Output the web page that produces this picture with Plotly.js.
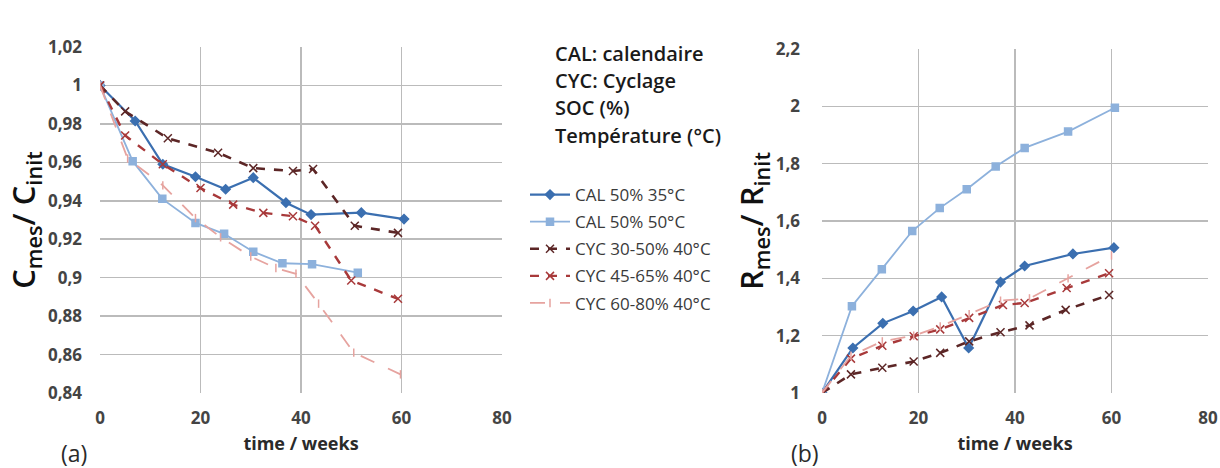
<!DOCTYPE html>
<html><head><meta charset="utf-8">
<script src="https://cdn.plot.ly/plotly-3.0.1.min.js"></script>
<style>html,body{margin:0;padding:0;background:#fff}#chart{width:1220px;height:468px}</style>
</head><body><div id="chart"></div>
<script>
// ---- data: capacity (a) ----
const seriesNames = ["CAL 50% 35°C", "CAL 50% 50°C", "CYC 30-50% 40°C", "CYC 45-65% 40°C", "CYC 60-80% 40°C"];
const capCal35Weeks = [0, 7, 12.5, 19, 25, 30.5, 37, 42, 52, 60.5];
const capCal35 = [1, 0.9815, 0.959, 0.9525, 0.946, 0.952, 0.939, 0.9328, 0.9338, 0.9305];
const capCal50Weeks = [0, 6.5, 12.4, 19, 24.7, 30.5, 36.3, 42.2, 51.3];
const capCal50 = [1, 0.9606, 0.941, 0.9285, 0.9228, 0.9135, 0.9075, 0.907, 0.9026];
const capCyc3050Weeks = [0, 5, 13.5, 23.5, 30.5, 38.4, 42.4, 50.7, 59.3];
const capCyc3050 = [1, 0.9865, 0.9725, 0.965, 0.957, 0.9555, 0.9565, 0.927, 0.9233];
const capCyc4565Weeks = [0, 5, 12.5, 20, 26.5, 32.5, 38.4, 42.8, 50, 59.3];
const capCyc4565 = [1, 0.974, 0.959, 0.9466, 0.938, 0.9337, 0.932, 0.927, 0.8985, 0.889];
const capCyc6080Weeks = [0, 5.5, 12.5, 19, 24, 30, 35, 39, 43.5, 50.5, 59.8];
const capCyc6080 = [1, 0.962, 0.948, 0.931, 0.921, 0.911, 0.905, 0.902, 0.8865, 0.861, 0.8497];
// ---- data: resistance (b) ----
const resCal35Weeks = [0, 6.4, 12.6, 18.9, 24.8, 30.4, 37, 42, 52, 60.5];
const resCal35 = [1, 1.157, 1.243, 1.286, 1.335, 1.157, 1.387, 1.443, 1.485, 1.507];
const resCal50Weeks = [0, 6.2, 12.4, 18.7, 24.4, 30, 36, 42, 51, 60.7];
const resCal50 = [1, 1.303, 1.432, 1.565, 1.645, 1.711, 1.79, 1.855, 1.912, 1.995];
const resCyc3050Weeks = [0, 6, 12.5, 19, 24.5, 30.5, 37, 43, 50.5, 59.5];
const resCyc3050 = [1, 1.065, 1.088, 1.11, 1.14, 1.18, 1.212, 1.236, 1.29, 1.342];
const resCyc4565Weeks = [0, 6, 12.5, 19, 24.5, 30.5, 37.5, 42, 50.7, 59.5];
const resCyc4565 = [1, 1.12, 1.165, 1.198, 1.222, 1.262, 1.307, 1.314, 1.366, 1.418];
const resCyc6080Weeks = [0, 6, 12.5, 19, 24.5, 30.5, 37, 43, 51, 60];
const resCyc6080 = [1, 1.13, 1.18, 1.2, 1.232, 1.275, 1.322, 1.33, 1.4, 1.48];
// tick labels
const xTicks = [0, 20, 40, 60, 80];
const capTicks = [0.84, 0.86, 0.88, 0.9, 0.92, 0.94, 0.96, 0.98, 1, 1.02];
const resTicks = [1, 1.2, 1.4, 1.6, 1.8, 2, 2.2];
const infoLines = ["CAL: calendaire", "CYC: Cyclage", "SOC (%)", "Température (°C)"];

const styles = [
  {color: "#3B6FB0", dash: "solid", width: 2.2, symbol: "diamond", size: 7},
  {color: "#8DB1DC", dash: "solid", width: 1.8, symbol: "square", size: 7},
  {color: "#5C2626", dash: "dash", width: 2.6, symbol: "x-thin-open", size: 8},
  {color: "#A8393A", dash: "dash", width: 2.4, symbol: "x-thin-open", size: 8},
  {color: "#E6A39F", dash: "longdash", width: 1.8, symbol: "line-ns-open", size: 6}
];
const capX = [capCal35Weeks, capCal50Weeks, capCyc3050Weeks, capCyc4565Weeks, capCyc6080Weeks];
const capY = [capCal35, capCal50, capCyc3050, capCyc4565, capCyc6080];
const resX = [resCal35Weeks, resCal50Weeks, resCyc3050Weeks, resCyc4565Weeks, resCyc6080Weeks];
const resY = [resCal35, resCal50, resCyc3050, resCyc4565, resCyc6080];

const traces = [];
seriesNames.forEach((n, i) => {
  const s = styles[i];
  const mk = {symbol: s.symbol, size: s.size, color: s.color, line: {color: s.color, width: 1.5}};
  traces.push({x: capX[i], y: capY[i], name: n, type: "scatter", mode: "lines+markers",
    xaxis: "x", yaxis: "y", legendgroup: "g" + i,
    line: {color: s.color, dash: s.dash, width: s.width}, marker: mk});
});
seriesNames.forEach((n, i) => {
  const s = styles[i];
  const mk = {symbol: s.symbol, size: s.size, color: s.color, line: {color: s.color, width: 1.5}};
  traces.push({x: resX[i], y: resY[i], name: n, type: "scatter", mode: "lines+markers",
    xaxis: "x2", yaxis: "y2", showlegend: false, legendgroup: "g" + i,
    line: {color: s.color, dash: s.dash, width: s.width}, marker: mk});
});

const FAM = "'Open Sans', 'Noto Sans', sans-serif";
const tickFont = {family: FAM, size: 17, color: "#444444", weight: 700};
const grid = {showgrid: true, gridcolor: "#BBBBBB", gridwidth: 1.5, zeroline: false, showline: false,
  ticks: "", tickfont: tickFont};
const W = 1220, H = 468;
const px = v => v / W, py = v => (H - v) / H;

const annotations = infoLines.map((t, i) => ({
  text: t, xref: "paper", yref: "paper", x: px(553), y: py(53 + i * 27.5), xanchor: "left", yanchor: "middle",
  showarrow: false, font: {family: FAM, size: 20, color: "#1a1a1a", weight: 600}
}));
annotations.push({text: "(a)", xref: "paper", yref: "paper", x: px(74), y: py(453), xanchor: "center", yanchor: "middle",
  showarrow: false, font: {family: FAM, size: 23, color: "#2a2a2a"}});
annotations.push({text: "(b)", xref: "paper", yref: "paper", x: px(805), y: py(453), xanchor: "center", yanchor: "middle",
  showarrow: false, font: {family: FAM, size: 23, color: "#2a2a2a"}});

const xTitleFont = {family: FAM, size: 18, color: "#2a2a2a", weight: 700};
const yTitleFont = {family: FAM, size: 31, color: "#111", weight: 600};
const layout = {
  width: W, height: H, margin: {l: 0, r: 0, t: 0, b: 0},
  paper_bgcolor: "#fff", plot_bgcolor: "#fff", separators: ", ",
  showlegend: true,
  legend: {x: px(525), y: py(177), xanchor: "left", yanchor: "top", bgcolor: "rgba(0,0,0,0)",
    font: {family: FAM, size: 17, color: "#3a3a3a"}, tracegroupgap: 2, itemwidth: 40},
  xaxis: Object.assign({}, grid, {domain: [px(100), px(502)], range: [0, 80], tickvals: xTicks, anchor: "y",
    ticklabelstandoff: 13,
    title: {text: "time / weeks", standoff: 9, font: xTitleFont}}),
  yaxis: Object.assign({}, grid, {domain: [py(393), py(47)], range: [0.84, 1.02], tickvals: capTicks, anchor: "x",
    ticklabelstandoff: 17,
    title: {text: "C<sub>mes</sub>/ C<sub>init</sub>", standoff: 0, font: yTitleFont}}),
  xaxis2: Object.assign({}, grid, {domain: [px(822), px(1208)], range: [0, 80], tickvals: xTicks, anchor: "y2",
    ticklabelstandoff: 13,
    title: {text: "time / weeks", standoff: 9, font: xTitleFont}}),
  yaxis2: Object.assign({}, grid, {domain: [py(393), py(49)], range: [1, 2.2], tickvals: resTicks, anchor: "x2",
    ticklabelstandoff: 21,
    title: {text: "R<sub>mes</sub>/ R<sub>init</sub>", standoff: 0, font: yTitleFont}}),
  annotations: annotations
};
Plotly.newPlot("chart", traces, layout, {displayModeBar: false, staticPlot: true});
</script></body></html>
